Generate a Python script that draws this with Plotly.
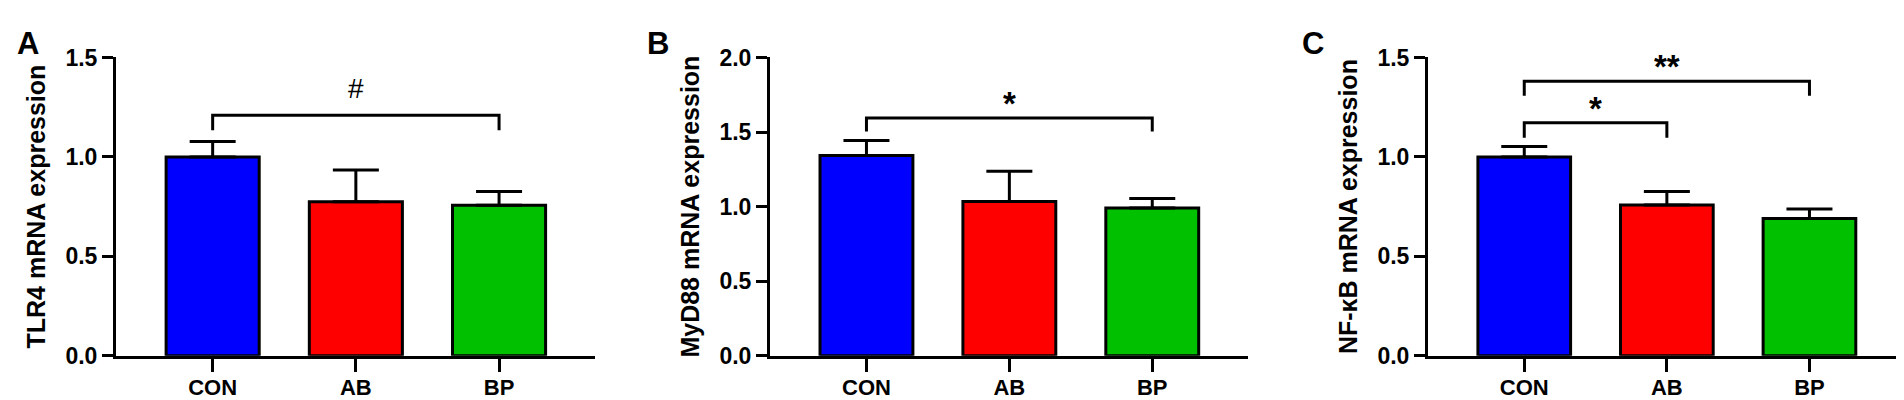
import plotly.graph_objects as go

categories = ["CON", "AB", "BP"]
colors = ["#0000FF", "#FF0000", "#00C000"]

tlr4_mean = [1.0, 0.774, 0.757]
tlr4_err = [0.077, 0.160, 0.069]
myd88_mean = [1.342, 1.034, 0.990]
myd88_err = [0.102, 0.203, 0.065]
nfkb_mean = [1.0, 0.758, 0.690]
nfkb_err = [0.052, 0.068, 0.048]

y_titles = ["TLR4 mRNA expression", "MyD88 mRNA expression", "NF-\u03baB mRNA expression"]
y_max = [1.5, 2.0, 1.5]
panel_letters = ["A", "B", "C"]

# brackets: (panel, from_cat, to_cat, top_y, drop_y, label)
brackets = [
    (0, 0, 2, 1.21, 1.134, "#"),
    (1, 0, 2, 1.594, 1.503, "*"),
    (2, 0, 2, 1.381, 1.307, "**"),
    (2, 0, 1, 1.172, 1.096, "*"),
]

W, H = 1904, 400
x_domains = [(108 / W, 587 / W), (762 / W, 1240 / W), (1420 / W, 1897 / W)]
y_domain = ((H - 358) / H, (H - 39) / H)

FONT = "Liberation Sans, Arial, sans-serif"

fig = go.Figure()
means = [tlr4_mean, myd88_mean, nfkb_mean]
errs = [tlr4_err, myd88_err, nfkb_err]

for i in range(3):
    xa = "x" if i == 0 else f"x{i+1}"
    ya = "y" if i == 0 else f"y{i+1}"
    fig.add_trace(go.Bar(
        x=categories, y=means[i], xaxis=xa, yaxis=ya,
        width=0.65,
        marker=dict(color=colors, line=dict(color="black", width=3)),
        error_y=dict(type="data", symmetric=False, array=errs[i],
                     arrayminus=[0, 0, 0], color="black", thickness=3, width=23),
        showlegend=False,
    ))

for (p, a, b, top, drop, label) in brackets:
    xa = "x" if p == 0 else f"x{p+1}"
    ya = "y" if p == 0 else f"y{p+1}"
    fig.add_trace(go.Scatter(
        x=[categories[a], categories[a], categories[b], categories[b]],
        y=[drop, top, top, drop], xaxis=xa, yaxis=ya, mode="lines",
        line=dict(color="black", width=3), showlegend=False, hoverinfo="skip",
    ))
    if label == "#":
        font = dict(family=FONT, size=28, color="black")
        ysh = 9
    else:
        font = dict(family=FONT, size=33, color="black", weight="bold")
        ysh = -6
    fig.add_annotation(
        x=(a + b) / 2, y=top, xref=xa, yref=ya, text=label, showarrow=False,
        yanchor="bottom", yshift=ysh, font=font,
    )

layout = dict(
    width=W, height=H, margin=dict(l=0, r=0, t=0, b=0),
    paper_bgcolor="white", plot_bgcolor="white",
    font=dict(family=FONT, color="black"),
)
for i in range(3):
    xk = "xaxis" if i == 0 else f"xaxis{i+1}"
    yk = "yaxis" if i == 0 else f"yaxis{i+1}"
    ya_anchor = "y" if i == 0 else f"y{i+1}"
    xa_anchor = "x" if i == 0 else f"x{i+1}"
    layout[xk] = dict(
        domain=x_domains[i], anchor=ya_anchor, type="category",
        range=[-0.675, 2.67], showline=True, linecolor="black", linewidth=3,
        ticks="outside", ticklen=13, tickwidth=3, tickcolor="black",
        showgrid=False, zeroline=False, ticklabelstandoff=-3,
        tickfont=dict(family=FONT, size=22, color="black", weight="bold"),
    )
    layout[yk] = dict(
        domain=y_domain, anchor=xa_anchor, range=[0, y_max[i]],
        dtick=0.5, tickformat=".1f", showline=True, linecolor="black", linewidth=3,
        ticks="outside", ticklen=11, tickwidth=3, tickcolor="black",
        showgrid=False, zeroline=False,
        tickfont=dict(family=FONT, size=23, color="black", weight="bold"),
        title=dict(text=y_titles[i], standoff=13,
                   font=dict(family=FONT, size=25, color="black", weight="bold")),
    )
fig.update_layout(**layout)

letter_x = [7, 637, 1292]
for i in range(3):
    fig.add_annotation(
        x=letter_x[i] / W, y=1 - 24 / H, xref="paper", yref="paper",
        xanchor="left", yanchor="middle", text=panel_letters[i], showarrow=False,
        font=dict(family=FONT, size=31, color="black", weight="bold"),
    )

fig.write_html("out.html")
